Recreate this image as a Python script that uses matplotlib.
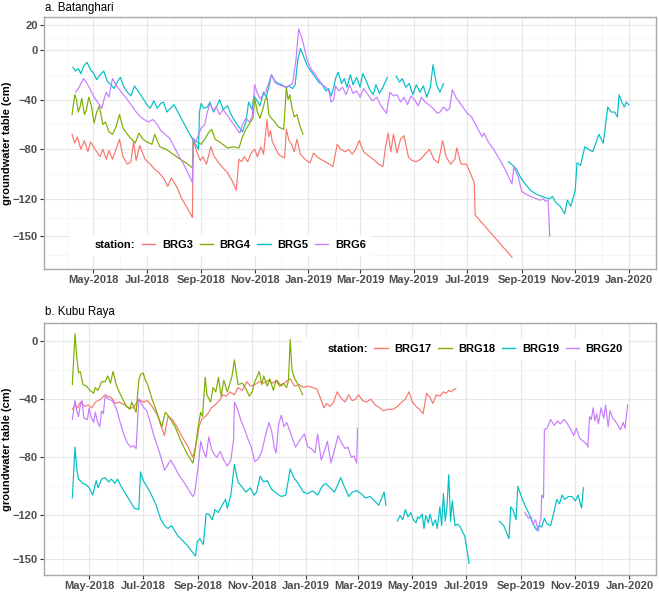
import numpy as np
import pandas as pd
import matplotlib
matplotlib.use("Agg")
import matplotlib.pyplot as plt
import matplotlib.dates as mdates
from matplotlib.lines import Line2D

plt.rcParams['font.family'] = ['Liberation Sans', 'DejaVu Sans']

NA = float('nan')

# ---------------- Panel a: Batanghari ----------------
brg3_date = ["2018-04-07","2018-04-10","2018-04-13","2018-04-17","2018-04-21","2018-04-25","2018-04-28",
 "2018-05-03","2018-05-09","2018-05-12","2018-05-16","2018-05-19","2018-05-23","2018-05-27","2018-05-31",
 "2018-06-04","2018-06-09","2018-06-13","2018-06-16","2018-06-19","2018-06-23","2018-06-29",
 "2018-07-05","2018-07-10","2018-07-15","2018-07-20","2018-07-25","2018-07-29",
 "2018-08-04","2018-08-10","2018-08-16","2018-08-22","2018-08-23","2018-08-27","2018-08-31",
 "2018-09-03","2018-09-07","2018-09-12","2018-09-16","2018-09-22",
 "2018-10-01","2018-10-06","2018-10-11","2018-10-14","2018-10-17","2018-10-20","2018-10-24","2018-10-28",
 "2018-11-01","2018-11-04","2018-11-08","2018-11-11","2018-11-15","2018-11-17","2018-11-19","2018-11-21","2018-11-24","2018-11-28",
 "2018-12-02","2018-12-05","2018-12-07","2018-12-10","2018-12-13","2018-12-16","2018-12-19","2018-12-23","2018-12-28",
 "2019-01-03","2019-01-07","2019-01-11","2019-01-15","2019-01-20","2019-01-25","2019-01-29",
 "2019-02-03","2019-02-07","2019-02-12","2019-02-16","2019-02-20","2019-02-24","2019-02-28",
 "2019-03-05","2019-03-10","2019-03-16","2019-03-22","2019-03-27","2019-03-30",
 "2019-04-02","2019-04-05","2019-04-08","2019-04-12","2019-04-16","2019-04-20","2019-04-25","2019-04-29",
 "2019-05-04","2019-05-09","2019-05-14","2019-05-19","2019-05-24","2019-05-29",
 "2019-06-03","2019-06-07","2019-06-12","2019-06-17","2019-06-19","2019-06-24","2019-06-30",
 "2019-07-05","2019-07-09","2019-07-10","2019-08-21"]
brg3_val = [-68,-75,-70,-80,-73,-82,-74,
 -80,-86,-80,-88,-81,-88,-80,-72,
 -86,-92,-90,-74,-89,-77,-88,
 -92,-96,-99,-103,-110,-103,
 -110,-120,-127,-135,-72,-82,-89,
 -86,-92,-78,-86,-92,
 -99,-105,-113,-88,-90,-86,-90,-83,
 -80,-86,-78,-84,-56,-70,-65,-74,-78,-84,
 -86,-87,-64,-73,-76,-82,-72,-84,-88,
 -91,-83,-86,-88,-90,-92,-94,
 -76,-80,-82,-80,-84,-80,-73,
 -82,-85,-88,-92,-94,-78,
 -67,-82,-68,-83,-72,-69,-86,-89,
 -90,-88,-84,-80,-88,-91,
 -73,-86,-92,-88,-79,-92,-92,
 -100,-107,-133,-167]

brg4_date = ["2018-04-07","2018-04-10","2018-04-12","2018-04-14","2018-04-16","2018-04-18","2018-04-21","2018-04-23",
 "2018-04-26","2018-04-29","2018-05-02","2018-05-05","2018-05-08","2018-05-12","2018-05-15","2018-05-19","2018-05-23",
 "2018-05-27","2018-05-31","2018-06-04","2018-06-09","2018-06-14","2018-06-18","2018-06-22","2018-06-27",
 "2018-07-01","2018-07-07","2018-07-10","2018-07-16","2018-07-23","2018-07-31",
 "2018-08-08","2018-08-15","2018-08-22","2018-08-23","2018-08-27",
 "2018-09-01","2018-09-05","2018-09-10","2018-09-13","2018-09-17","2018-09-22",
 "2018-10-01","2018-10-08","2018-10-14","2018-10-18","2018-10-22","2018-10-27","2018-10-30",
 "2018-11-01","2018-11-04","2018-11-07","2018-11-10","2018-11-13","2018-11-15","2018-11-17","2018-11-20","2018-11-24","2018-11-28",
 "2018-12-04","2018-12-07","2018-12-09","2018-12-11","2018-12-13","2018-12-16","2018-12-19","2018-12-22","2018-12-26"]
brg4_val = [-52,-36,-40,-50,-46,-39,-52,-49,
 -38,-45,-59,-50,-45,-60,-58,-66,-68,
 -62,-52,-63,-68,-72,-75,-67,-72,
 -74,-76,-68,-78,-80,-84,
 -88,-91,-95,-72,-74,
 -76,-72,-66,-64,-72,-74,
 -79,-78,-79,-70,-64,-58,-55,
 -39,-50,-55,-48,-40,-38,-52,-55,-58,-62,
 -64,-30,-40,-36,-45,-54,-52,-60,-68]

brg5_date = ["2018-04-08","2018-04-11","2018-04-14","2018-04-17","2018-04-20","2018-04-24","2018-04-28",
 "2018-05-01","2018-05-05","2018-05-09","2018-05-13","2018-05-17","2018-05-21","2018-05-25","2018-05-29",
 "2018-06-01","2018-06-05","2018-06-09","2018-06-13","2018-06-17","2018-06-21","2018-06-25",
 "2018-07-01","2018-07-05","2018-07-09","2018-07-13","2018-07-17","2018-07-20","2018-07-24","2018-07-28",
 "2018-08-01","2018-08-07","2018-08-13","2018-08-19","2018-08-24","2018-08-29","2018-08-30",
 "2018-09-01","2018-09-04","2018-09-08","2018-09-11","2018-09-15","2018-09-19","2018-09-22","2018-09-26",
 "2018-10-01","2018-10-05","2018-10-10","2018-10-14","2018-10-18","2018-10-22","2018-10-25","2018-10-29","2018-10-31",
 "2018-11-03","2018-11-07","2018-11-11","2018-11-14","2018-11-17","2018-11-20","2018-11-24","2018-11-28",
 "2018-12-02","2018-12-06","2018-12-10","2018-12-14","2018-12-17","2018-12-20","2018-12-23","2018-12-26","2018-12-31",
 "2019-01-05","2019-01-09","2019-01-13","2019-01-17","2019-01-21","2019-01-24","2019-01-27","2019-01-30",
 "2019-02-01","2019-02-04","2019-02-08","2019-02-11","2019-02-14","2019-02-18","2019-02-21","2019-02-25",
 "2019-03-01","2019-03-04","2019-03-08","2019-03-12","2019-03-16","2019-03-19","2019-03-23","2019-03-27",
 "2019-04-01","2019-04-02",
 "2019-04-11","2019-04-15","2019-04-18","2019-04-22","2019-04-26","2019-04-30",
 "2019-05-04","2019-05-08","2019-05-12","2019-05-16","2019-05-20","2019-05-23","2019-05-27","2019-05-31",
 "2019-06-04","2019-06-05",
 "2019-08-17","2019-08-22","2019-08-26","2019-08-31","2019-09-05","2019-09-11","2019-09-17","2019-09-24","2019-09-28",
 "2019-10-03","2019-10-06","2019-10-10","2019-10-15","2019-10-20","2019-10-23","2019-10-27",
 "2019-11-01","2019-11-03","2019-11-07","2019-11-12","2019-11-16","2019-11-21","2019-11-28",
 "2019-12-03","2019-12-08","2019-12-12","2019-12-16","2019-12-19","2019-12-21","2019-12-24","2019-12-27","2019-12-29",
 "2020-01-01"]
brg5_val = [-14,-17,-15,-19,-13,-10,-16,
 -18,-24,-20,-17,-25,-28,-31,-25,
 -22,-30,-34,-37,-29,-33,-37,
 -44,-47,-41,-47,-43,-42,-50,-47,
 -44,-52,-60,-68,-74,-80,-50,
 -43,-47,-46,-42,-50,-45,-40,-48,
 -45,-52,-58,-62,-66,-58,-42,-48,-37,
 -40,-45,-34,-38,-30,-20,-25,-27,
 -28,-30,-29,-31,-28,-8,1,-4,-13,
 -18,-22,-26,-28,-33,-31,-37,-30,
 -23,-18,-27,-23,-30,-20,-28,-22,
 -30,-19,-25,-32,-36,-28,-35,-30,
 -22,NA,
 -21,-26,-23,-30,-27,-36,
 -28,-34,-29,-38,-30,-12,-28,-34,
 -27,NA,
 -90,-93,-96,-103,-108,-113,-116,-118,-119,
 -120,-118,-123,-126,-132,-121,-126,
 -113,-91,-93,-78,-80,-82,-68,
 -75,-46,-50,-50,-54,-36,-42,-46,-42,
 -44]

brg6_date = ["2018-04-11","2018-04-15","2018-04-20","2018-04-24","2018-04-28",
 "2018-05-02","2018-05-06","2018-05-11","2018-05-14","2018-05-16","2018-05-19","2018-05-23","2018-05-27",
 "2018-06-01","2018-06-08","2018-06-14","2018-06-19","2018-06-24","2018-06-28",
 "2018-07-03","2018-07-08","2018-07-13","2018-07-17","2018-07-22","2018-07-27",
 "2018-08-02","2018-08-07","2018-08-12","2018-08-17","2018-08-22","2018-08-23","2018-08-26","2018-08-29",
 "2018-09-01","2018-09-05","2018-09-08","2018-09-11","2018-09-15","2018-09-18","2018-09-22","2018-09-26",
 "2018-10-01","2018-10-06","2018-10-11","2018-10-15","2018-10-18","2018-10-22","2018-10-26","2018-10-29",
 "2018-11-01","2018-11-04","2018-11-07","2018-11-10","2018-11-14","2018-11-20","2018-11-24","2018-11-28",
 "2018-12-03","2018-12-08","2018-12-14","2018-12-18","2018-12-21","2018-12-23","2018-12-25","2018-12-28","2018-12-31",
 "2019-01-05","2019-01-09","2019-01-13","2019-01-17","2019-01-21","2019-01-25","2019-01-27","2019-01-30",
 "2019-02-01","2019-02-05","2019-02-09","2019-02-13","2019-02-17","2019-02-21","2019-02-25",
 "2019-03-01","2019-03-05","2019-03-10","2019-03-15","2019-03-20","2019-03-24","2019-03-28","2019-03-31",
 "2019-04-04","2019-04-08","2019-04-12","2019-04-16","2019-04-20","2019-04-24","2019-04-28",
 "2019-05-02","2019-05-06","2019-05-10","2019-05-14","2019-05-18","2019-05-23","2019-05-28","2019-05-31",
 "2019-06-04","2019-06-08","2019-06-11","2019-06-14","2019-06-18","2019-06-24","2019-06-30",
 "2019-07-06","2019-07-12","2019-07-18","2019-07-20","2019-07-25","2019-07-31",
 "2019-08-06","2019-08-13","2019-08-21","2019-08-23","2019-08-28",
 "2019-09-01","2019-09-08","2019-09-15","2019-09-22","2019-09-26","2019-09-28",
 "2019-10-01","2019-10-03"]
brg6_val = [-34,-30,-23,-27,-32,
 -38,-42,-47,-38,-34,-38,-23,-28,
 -33,-39,-45,-50,-54,-56,
 -58,-56,-60,-65,-68,-71,
 -79,-86,-92,-99,-107,-71,-74,-68,
 -63,-60,-50,-43,-49,-46,-52,-48,
 -53,-58,-63,-67,-60,-55,-58,-54,
 -28,-35,-39,-37,-33,-20,-26,-28,
 -29,-30,-27,-8,17,13,9,0,-9,
 -16,-20,-24,-28,-30,-34,-42,-40,
 -29,-33,-30,-36,-28,-35,-33,
 -38,-31,-36,-41,-38,-44,-48,-51,
 -34,-37,-36,-42,-38,-44,-37,
 -40,-45,-38,-42,-44,-47,-51,-50,
 -46,-49,-47,-32,-38,-44,-50,
 -54,-62,-70,-67,-74,-80,
 -87,-96,-108,-94,-102,
 -114,-117,-119,-121,-120,-122,
 -121,-150]

# ---------------- Panel b: Kubu Raya ----------------
brg17_date = ["2018-04-12","2018-04-15","2018-04-18","2018-04-21","2018-04-26","2018-04-30",
 "2018-05-04","2018-05-08","2018-05-14","2018-05-19","2018-05-22","2018-05-26","2018-05-31",
 "2018-06-04","2018-06-10","2018-06-15","2018-06-20","2018-06-26",
 "2018-07-01","2018-07-06","2018-07-11","2018-07-17","2018-07-22","2018-07-25","2018-07-29",
 "2018-08-03","2018-08-08","2018-08-14","2018-08-20","2018-08-26","2018-08-29",
 "2018-09-02","2018-09-05","2018-09-09","2018-09-12","2018-09-16","2018-09-20","2018-09-25","2018-09-29",
 "2018-10-03","2018-10-07","2018-10-12","2018-10-16","2018-10-21","2018-10-26","2018-10-30",
 "2018-11-04","2018-11-09","2018-11-14","2018-11-19","2018-11-24","2018-11-29",
 "2018-12-04","2018-12-09","2018-12-14","2018-12-19","2018-12-24","2018-12-29",
 "2019-01-03","2019-01-08","2019-01-13","2019-01-17","2019-01-21","2019-01-24","2019-01-28",
 "2019-02-01","2019-02-05","2019-02-09","2019-02-14","2019-02-18","2019-02-22","2019-02-26",
 "2019-03-01","2019-03-06","2019-03-10","2019-03-15","2019-03-20","2019-03-25","2019-03-29",
 "2019-04-03","2019-04-09","2019-04-14","2019-04-19","2019-04-23","2019-04-27",
 "2019-05-01","2019-05-05","2019-05-09","2019-05-13","2019-05-17","2019-05-21","2019-05-24","2019-05-28",
 "2019-06-01","2019-06-05","2019-06-08","2019-06-11","2019-06-14","2019-06-17","2019-06-19"]
brg17_val = [-47,-44,-46,-42,-45,-44,
 -46,-42,-40,-37,-38,-39,-43,
 -42,-44,-46,-46,-40,
 -42,-41,-45,-51,-60,-65,-52,
 -54,-59,-66,-72,-80,-73,
 -59,-54,-52,-50,-46,-44,-41,-37,
 -38,-35,-37,-32,-34,-28,-31,
 -30,-28,-29,-27,-29,-27,
 -31,-28,-26,-31,-30,-32,
 -31,-32,-33,-39,-46,-43,-45,
 -42,-35,-39,-42,-37,-41,-40,
 -37,-41,-42,-40,-44,-46,-48,
 -47,-47,-45,-42,-40,-35,
 -42,-45,-47,-50,-36,-39,-43,-37,
 -38,-35,-36,-34,-35,-33,-33]

brg18_date = ["2018-04-12","2018-04-15","2018-04-17","2018-04-19","2018-04-21","2018-04-24","2018-04-28",
 "2018-05-02","2018-05-06","2018-05-08","2018-05-11","2018-05-15","2018-05-19","2018-05-22","2018-05-25","2018-05-28",
 "2018-06-01","2018-06-07","2018-06-12","2018-06-16","2018-06-18","2018-06-23","2018-06-26","2018-06-28",
 "2018-07-01","2018-07-03","2018-07-06","2018-07-11","2018-07-17","2018-07-22","2018-07-26","2018-07-30",
 "2018-08-06","2018-08-12","2018-08-19","2018-08-26","2018-08-28",
 "2018-09-01","2018-09-04","2018-09-06","2018-09-09","2018-09-11","2018-09-15","2018-09-18","2018-09-21","2018-09-24","2018-09-27","2018-09-30",
 "2018-10-04","2018-10-09","2018-10-12","2018-10-16","2018-10-21","2018-10-25","2018-10-29",
 "2018-11-01","2018-11-04","2018-11-09","2018-11-12","2018-11-14","2018-11-18","2018-11-21","2018-11-25","2018-11-28",
 "2018-12-02","2018-12-06","2018-12-10","2018-12-12","2018-12-14","2018-12-16","2018-12-19","2018-12-23","2018-12-28"]
brg18_val = [-30,5,-11,-22,-21,-30,-31,
 -34,-36,-32,-34,-28,-28,-24,-29,-21,
 -31,-39,-45,-47,-42,-49,-27,-23,
 -22,-26,-30,-40,-50,-59,-49,-52,
 -59,-68,-77,-84,-78,
 -59,-49,-52,-25,-37,-42,-32,-35,-25,-38,-27,
 -35,-25,-13,-30,-29,-33,-38,
 -35,-28,-21,-30,-24,-31,-26,-34,-27,
 -31,-29,-32,-27,1,-20,-26,-30,-37]

brg19_date = ["2018-04-12","2018-04-15","2018-04-17","2018-04-19","2018-04-24","2018-04-28",
 "2018-05-01","2018-05-05","2018-05-09","2018-05-11","2018-05-15","2018-05-19","2018-05-23","2018-05-26","2018-05-30",
 "2018-06-02","2018-06-06","2018-06-10","2018-06-16","2018-06-21","2018-06-26","2018-06-28",
 "2018-07-01","2018-07-04","2018-07-08","2018-07-15","2018-07-21","2018-07-25","2018-07-29",
 "2018-08-02","2018-08-09","2018-08-19","2018-08-29","2018-08-31",
 "2018-09-03","2018-09-07","2018-09-10","2018-09-13","2018-09-17","2018-09-20","2018-09-24","2018-09-28",
 "2018-10-02","2018-10-04","2018-10-08","2018-10-12","2018-10-16","2018-10-20","2018-10-25","2018-10-30",
 "2018-11-03","2018-11-06","2018-11-10","2018-11-14","2018-11-18","2018-11-23","2018-11-29",
 "2018-12-04","2018-12-09","2018-12-14","2018-12-18","2018-12-23","2018-12-29",
 "2019-01-03","2019-01-08","2019-01-14","2019-01-19","2019-01-23","2019-01-28",
 "2019-02-02","2019-02-09","2019-02-13","2019-02-18","2019-02-22","2019-02-27",
 "2019-03-04","2019-03-09","2019-03-14","2019-03-19","2019-03-24","2019-03-30",
 "2019-04-01","2019-04-02",
 "2019-04-14","2019-04-17","2019-04-20","2019-04-23","2019-04-26","2019-04-29",
 "2019-05-02","2019-05-05","2019-05-07","2019-05-09","2019-05-12","2019-05-14","2019-05-16","2019-05-19",
 "2019-05-21","2019-05-24","2019-05-27","2019-05-29",
 "2019-06-01","2019-06-03","2019-06-05","2019-06-07","2019-06-09","2019-06-11","2019-06-13","2019-06-15",
 "2019-06-18","2019-06-21","2019-06-24","2019-06-27","2019-06-29","2019-07-04","2019-07-05",
 "2019-08-07","2019-08-12","2019-08-18","2019-08-20","2019-08-23","2019-08-26","2019-08-28",
 "2019-09-01","2019-09-05","2019-09-09","2019-09-13","2019-09-18","2019-09-21","2019-09-24","2019-09-27","2019-09-30",
 "2019-10-04","2019-10-08","2019-10-11","2019-10-14","2019-10-17","2019-10-20","2019-10-24","2019-10-28",
 "2019-11-01","2019-11-04","2019-11-08","2019-11-10"]
brg19_val = [-108,-73,-88,-95,-98,-99,
 -101,-106,-96,-101,-95,-94,-97,-95,-98,
 -95,-100,-104,-110,-115,-116,-90,
 -96,-99,-103,-112,-123,-127,-129,
 -127,-134,-140,-148,-138,
 -136,-140,-119,-119,-123,-116,-118,-113,
 -109,-115,-106,-85,-97,-100,-104,-101,
 -106,-104,-93,-97,-96,-102,-105,
 -107,-106,-88,-94,-98,-104,
 -105,-103,-106,-100,-98,-101,
 -104,-94,-100,-107,-104,-103,
 -105,-108,-107,-110,-113,-104,
 -113,NA,
 -124,-120,-123,-116,-121,-118,
 -123,-125,-121,-122,-119,-129,-120,-125,
 -119,-127,-123,-129,
 -114,-127,-105,-124,-114,-92,-124,-110,
 -127,-126,-128,-132,-134,-153,NA,
 -124,-127,-136,-114,-117,-123,-100,
 -107,-113,-118,-124,-130,-127,-128,-122,-126,
 -127,-117,-109,-112,-106,-109,-107,-107,
 -110,-106,-115,-101]

brg20_date = ["2018-04-12","2018-04-15","2018-04-17","2018-04-19","2018-04-21","2018-04-23","2018-04-25","2018-04-29",
 "2018-05-01","2018-05-03","2018-05-06","2018-05-08","2018-05-10","2018-05-13","2018-05-15","2018-05-17","2018-05-19",
 "2018-05-23","2018-05-27","2018-06-01","2018-06-05","2018-06-09","2018-06-13","2018-06-17","2018-06-20","2018-06-23",
 "2018-06-26","2018-06-29","2018-07-02","2018-07-05","2018-07-09","2018-07-13","2018-07-18","2018-07-23","2018-07-25",
 "2018-07-29","2018-08-01","2018-08-05","2018-08-10","2018-08-18","2018-08-26","2018-08-28",
 "2018-09-01","2018-09-04","2018-09-07","2018-09-10","2018-09-13","2018-09-16","2018-09-19","2018-09-22","2018-09-26","2018-09-30",
 "2018-10-04","2018-10-08","2018-10-11","2018-10-12","2018-10-15","2018-10-19","2018-10-23","2018-10-27","2018-10-31",
 "2018-11-04","2018-11-08","2018-11-12","2018-11-16","2018-11-20","2018-11-23","2018-11-26","2018-11-28",
 "2018-12-01","2018-12-04","2018-12-07","2018-12-10","2018-12-13","2018-12-16","2018-12-20","2018-12-25","2018-12-30",
 "2019-01-03","2019-01-07","2019-01-11","2019-01-14","2019-01-18","2019-01-21","2019-01-25","2019-01-29",
 "2019-02-02","2019-02-06","2019-02-10","2019-02-14","2019-02-17","2019-02-21","2019-02-24","2019-02-27","2019-02-28",
 "2019-03-01",
 "2019-09-05","2019-09-09","2019-09-12","2019-09-14","2019-09-17","2019-09-20","2019-09-22","2019-09-23","2019-09-24",
 "2019-09-26","2019-09-27","2019-09-30",
 "2019-10-04","2019-10-08","2019-10-12","2019-10-15","2019-10-19","2019-10-22","2019-10-26","2019-10-30",
 "2019-11-02","2019-11-06","2019-11-10","2019-11-14","2019-11-15","2019-11-17","2019-11-19","2019-11-21","2019-11-23",
 "2019-11-25","2019-11-27","2019-11-30",
 "2019-12-03","2019-12-05","2019-12-08","2019-12-10","2019-12-13","2019-12-16","2019-12-20","2019-12-22","2019-12-25",
 "2019-12-27","2019-12-30"]
brg20_val = [-54,-41,-48,-52,-44,-41,-53,-54,
 -46,-52,-56,-49,-55,-59,-48,-50,-38,
 -40,-41,-47,-56,-64,-70,-73,-72,-74,
 -40,-43,-46,-48,-56,-65,-74,-84,-89,
 -85,-82,-86,-92,-99,-107,-105,
 -87,-69,-76,-80,-66,-74,-78,-80,-76,-82,
 -86,-82,-68,-42,-46,-54,-60,-67,-73,
 -83,-81,-76,-65,-56,-62,-73,-77,
 -57,-51,-59,-56,-61,-66,-73,-68,-64,
 -73,-74,-77,-64,-82,-77,-69,-84,
 -75,-65,-70,-74,-73,-80,-79,-84,-60,
 NA,
 -118,-122,-121,-126,-123,-131,-124,-123,-106,
 -108,-61,-60,
 -54,-58,-55,-57,-54,-56,-60,-65,
 -60,-67,-69,-71,-73,-52,-54,-46,-55,
 -50,-57,-46,
 -53,-44,-59,-48,-53,-55,-59,-61,-56,
 -60,-44]

stations_a = ["BRG3", "BRG4", "BRG5", "BRG6"]
stations_b = ["BRG17", "BRG18", "BRG19", "BRG20"]
series_a = [(brg3_date, brg3_val), (brg4_date, brg4_val), (brg5_date, brg5_val), (brg6_date, brg6_val)]
series_b = [(brg17_date, brg17_val), (brg18_date, brg18_val), (brg19_date, brg19_val), (brg20_date, brg20_val)]
palette = ["#F8766D", "#7CAE00", "#00BFC4", "#C77CFF"]

yticks_a = [20, 0, -40, -80, -120, -150]
yminor_a = [10, -20, -60, -100, -135, -165]
yticks_b = [0, -40, -80, -120, -150]
yminor_b = [-20, -60, -100, -135]

W, H = 659, 593
fig = plt.figure(figsize=(W / 100, H / 100), dpi=100)

def px_axes(left, top, right, bottom):
    return fig.add_axes([left / W, 1 - bottom / H, (right - left) / W, (bottom - top) / H])

ax_a = px_axes(44, 17, 656, 269)
ax_b = px_axes(44, 323, 656, 575)

major_x = pd.date_range("2018-05-01", "2020-01-01", freq="2MS")
minor_x = pd.date_range("2018-04-01", "2019-12-01", freq="2MS")

def style(ax, xlim, ylim, yt, ym):
    ax.set_xlim(pd.Timestamp(xlim[0]), pd.Timestamp(xlim[1]))
    ax.set_ylim(*ylim)
    ax.set_xticks(major_x)
    ax.set_xticks(minor_x, minor=True)
    ax.xaxis.set_major_formatter(mdates.DateFormatter("%b-%Y"))
    ax.set_yticks(yt)
    ax.set_yticks(ym, minor=True)
    ax.grid(True, which="major", color="#E6E6E6", lw=0.8, zorder=0)
    ax.grid(True, which="minor", color="#F2F2F2", lw=0.5, zorder=0)
    ax.set_axisbelow(True)
    for s in ax.spines.values():
        s.set_color("#A8A8A8")
        s.set_linewidth(1.0)
    ax.tick_params(which="major", length=3, width=0.8, color="#333333",
                   labelsize=8, labelcolor="#4D4D4D", pad=1.5)
    ax.tick_params(which="minor", length=0)
    for lab in ax.get_xticklabels() + ax.get_yticklabels():
        lab.set_fontweight("bold")
    ax.set_ylabel("groundwater table (cm)", fontsize=8, fontweight="bold", color="black")
    ax.yaxis.set_label_coords(-0.052, 0.5)

def legend(ax, names, anchor):
    handles = [Line2D([], [], color="none", label="station:")]
    for n, c in zip(names, palette):
        handles.append(Line2D([], [], color=c, lw=1.0, label=n))
    leg = ax.legend(handles=handles, ncol=5, loc="center", bbox_to_anchor=anchor,
                    prop=dict(weight="bold", size=8), frameon=True, facecolor="white",
                    edgecolor="none", framealpha=1, fancybox=False,
                    handlelength=1.2, handletextpad=0.6, columnspacing=0.6,
                    borderpad=0.5)
    leg.set_zorder(5)

for (d, v), c in zip(series_a, palette):
    ax_a.plot(pd.to_datetime(d), v, color=c, lw=0.85, zorder=2)
for (d, v), c in zip(series_b, palette):
    ax_b.plot(pd.to_datetime(d), v, color=c, lw=0.85, zorder=2)

style(ax_a, ("2018-03-06", "2020-02-01"), (-176.5, 26.6), yticks_a, yminor_a)
style(ax_b, ("2018-03-11", "2020-01-31"), (-161, 12.4), yticks_b, yminor_b)

legend(ax_a, stations_a, (0.288, 0.095))
legend(ax_b, stations_b, (0.688, 0.897))

fig.text(45 / W, 1 - 8 / H, "a. Batanghari", fontsize=8.3, va="center", ha="left")
fig.text(45 / W, 1 - 312 / H, "b. Kubu Raya", fontsize=8.3, va="center", ha="left")

fig.savefig("out.png", dpi=100)
